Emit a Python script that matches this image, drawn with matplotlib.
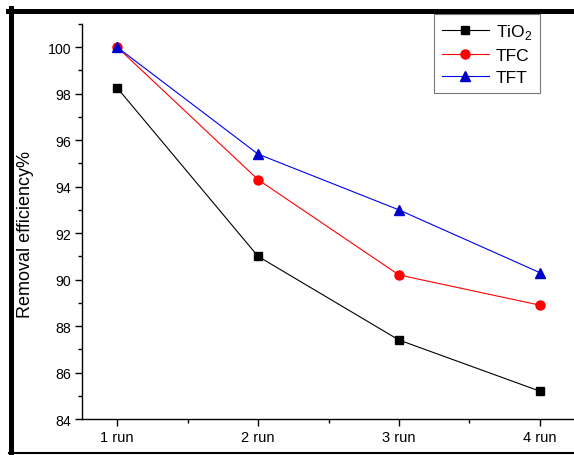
import matplotlib
matplotlib.use("Agg")
import matplotlib.pyplot as plt
from matplotlib.lines import Line2D
from matplotlib.ticker import MultipleLocator, FixedLocator

plt.rcParams['font.family'] = ['Liberation Sans', 'DejaVu Sans']
plt.rcParams['mathtext.fontset'] = 'custom'
plt.rcParams['mathtext.rm'] = 'Liberation Sans'

runs = [1, 2, 3, 4]
run_labels = ["1 run", "2 run", "3 run", "4 run"]
tio2 = [98.25, 91.0, 87.4, 85.2]
tfc = [100.0, 94.3, 90.2, 88.9]
tft = [100.0, 95.4, 93.0, 90.3]

W, H = 574, 456
fig = plt.figure(figsize=(W / 100, H / 100), dpi=100)
ax = fig.add_axes([82 / W, 1 - 420 / H, 493 / W, 395 / H])

ax.plot(runs, tio2, color='black', lw=0.8, marker='s', ms=6, label=r'TiO$_2$')
ax.plot(runs, tfc, color='#ff0000', lw=0.8, marker='o', ms=6.5, label='TFC')
ax.plot(runs, tft, color='#0000ee', lw=0.8, marker='^', ms=7, mfc='#0000cc', mec='#0000cc', label='TFT')

ax.set_xlim(0.75, 4.25)
ax.set_ylim(84, 101)
ax.xaxis.set_major_locator(FixedLocator(runs))
ax.set_xticklabels(run_labels)
ax.xaxis.set_minor_locator(FixedLocator([1.5, 2.5, 3.5]))
ax.yaxis.set_major_locator(MultipleLocator(2))
ax.yaxis.set_minor_locator(MultipleLocator(1))
ax.tick_params(which='major', direction='out', length=5, width=1, labelsize=10.5, pad=3)
ax.tick_params(which='minor', direction='out', length=3, width=1)
ax.tick_params(axis='y', labelsize=10.2)

for s in ['top', 'right']:
    ax.spines[s].set_visible(False)
for s in ['left', 'bottom']:
    ax.spines[s].set_linewidth(1.0)

ax.set_ylabel('Removal efficiency%', fontsize=13)
ax.yaxis.set_label_coords(-48 / 493, (420 - 235) / 395)

leg = ax.legend(loc='upper left', bbox_to_anchor=(434 / W, 1 - 15 / H),
                bbox_transform=fig.transFigure, fontsize=12.5, frameon=True,
                fancybox=False, edgecolor='#555555', handlelength=2.7,
                handletextpad=0.4, borderpad=0.45, labelspacing=0.4,
                borderaxespad=0)
leg.get_frame().set_linewidth(0.8)

# outer frame of the original graph page
def px(x, y):
    return x / W, 1 - y / H
x0, y0 = px(8, 11.5)
x1, y1 = px(574, 11.5)
fig.add_artist(Line2D([x0, x1], [y0, y1], color='black', lw=3.6, transform=fig.transFigure))
xa, ya = px(11, 9)
xb, yb = px(11, 455)
fig.add_artist(Line2D([xa, xb], [ya, yb], color='black', lw=3.6, transform=fig.transFigure))
xc, yc = px(9, 454)
xd, yd = px(574, 454)
fig.add_artist(Line2D([xc, xd], [yc, yd], color='black', lw=1.5, transform=fig.transFigure))

fig.savefig('out.png', dpi=100)
